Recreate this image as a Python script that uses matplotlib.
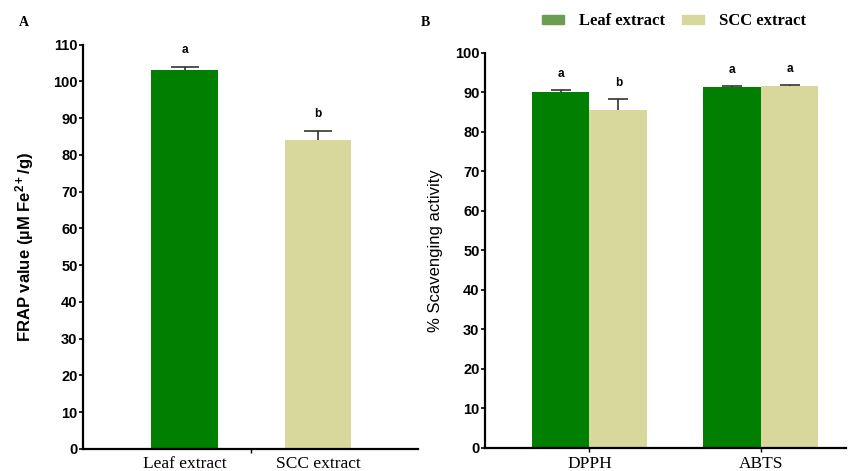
import numpy as np
import matplotlib.pyplot as plt
from matplotlib.patches import Patch

# data
frap_labels = ['Leaf extract', 'SCC extract']
frap_values = [103.0, 84.0]
frap_err = [1.0, 2.6]
frap_letters = ['a', 'b']

assay_labels = ['DPPH', 'ABTS']
leaf_values = [90.0, 91.4]
leaf_err = [0.5, 0.2]
leaf_letters = ['a', 'a']
scc_values = [85.4, 91.5]
scc_err = [2.9, 0.4]
scc_letters = ['b', 'a']

green = '#007f00'
tan = '#d8d89c'
legend_green = '#6b9e50'

plt.rcParams['font.family'] = ['Liberation Sans', 'DejaVu Sans']
plt.rcParams['mathtext.fontset'] = 'custom'
plt.rcParams['mathtext.rm'] = 'Liberation Sans'
plt.rcParams['mathtext.bf'] = 'Liberation Sans:bold'

fig = plt.figure(figsize=(8.48, 4.71), dpi=100)

cat_font = dict(family='Liberation Serif', fontsize=12.5)


def style_axis(ax):
    for side in ['top', 'right']:
        ax.spines[side].set_visible(False)
    ax.spines['left'].set_linewidth(1.6)
    ax.spines['bottom'].set_linewidth(1.6)
    ax.tick_params(axis='y', width=1.2, length=3, pad=1)
    for lbl in ax.get_yticklabels():
        lbl.set_fontweight('bold')
        lbl.set_fontsize(10.5)


# panel A
axA = fig.add_axes([0.098, 0.047, 0.395, 0.858])
xA = np.arange(len(frap_labels))
axA.errorbar(xA, frap_values, yerr=frap_err, fmt='none', zorder=1,
             ecolor='#333333', elinewidth=1.2, capsize=10, capthick=1.2)
axA.bar(xA, frap_values, width=0.5, color=[green, tan], zorder=2)
for x, v, e, t in zip(xA, frap_values, frap_err, frap_letters):
    axA.text(x, v + e + 3, t, ha='center', va='bottom', fontsize=8.5, fontweight='bold')
axA.set_xlim(-0.76, 1.75)
axA.set_ylim(0, 110)
axA.set_yticks(np.arange(0, 111, 10))
axA.set_xticks(xA)
axA.set_xticklabels(frap_labels, **cat_font)
axA.set_xticks([0.5], minor=True)
axA.tick_params(axis='x', which='major', length=0, pad=5)
axA.tick_params(axis='x', which='minor', length=3, width=1.0)
axA.set_ylabel('FRAP value (µM Fe$\\mathbf{^{2+}}$/g)', fontsize=12, fontweight='bold', labelpad=12)
style_axis(axA)

# panel B
axB = fig.add_axes([0.572, 0.049, 0.426, 0.839])
xB = np.arange(len(assay_labels))
w = 0.337
axB.errorbar(xB - w / 2, leaf_values, yerr=leaf_err, fmt='none', zorder=1,
             ecolor='#333333', elinewidth=1.2, capsize=7, capthick=1.2)
axB.errorbar(xB + w / 2, scc_values, yerr=scc_err, fmt='none', zorder=1,
             ecolor='#333333', elinewidth=1.2, capsize=7, capthick=1.2)
axB.bar(xB - w / 2, leaf_values, width=w, color=green, zorder=2)
axB.bar(xB + w / 2, scc_values, width=w, color=tan, zorder=2)
for x, v, e, t in zip(xB - w / 2, leaf_values, leaf_err, leaf_letters):
    axB.text(x, v + e + 2.5, t, ha='center', va='bottom', fontsize=8.5, fontweight='bold')
for x, v, e, t in zip(xB + w / 2, scc_values, scc_err, scc_letters):
    axB.text(x, v + e + 2.5, t, ha='center', va='bottom', fontsize=8.5, fontweight='bold')
axB.set_xlim(-0.61, 1.5)
axB.set_ylim(0, 100)
axB.set_yticks(np.arange(0, 101, 10))
axB.set_xticks(xB)
axB.set_xticklabels(assay_labels, **cat_font)
axB.tick_params(axis='x', length=3, width=1.0, pad=3)
axB.set_ylabel('% Scavenging activity', fontsize=12, labelpad=9)
style_axis(axB)

fig.legend(handles=[Patch(color=legend_green, label='Leaf extract'),
                    Patch(color=tan, label='SCC extract')],
           loc='center', bbox_to_anchor=(0.795, 0.955), ncol=2, frameon=False,
           prop={'family': 'Liberation Serif', 'size': 12, 'weight': 'bold'},
           handlelength=1.35, handleheight=0.5, columnspacing=1.0, handletextpad=0.9)

fig.text(0.022, 0.953, 'A', family='Liberation Serif', fontsize=10, fontweight='bold', va='center')
fig.text(0.496, 0.953, 'B', family='Liberation Serif', fontsize=10, fontweight='bold', va='center')

fig.savefig('out.png', dpi=100)
